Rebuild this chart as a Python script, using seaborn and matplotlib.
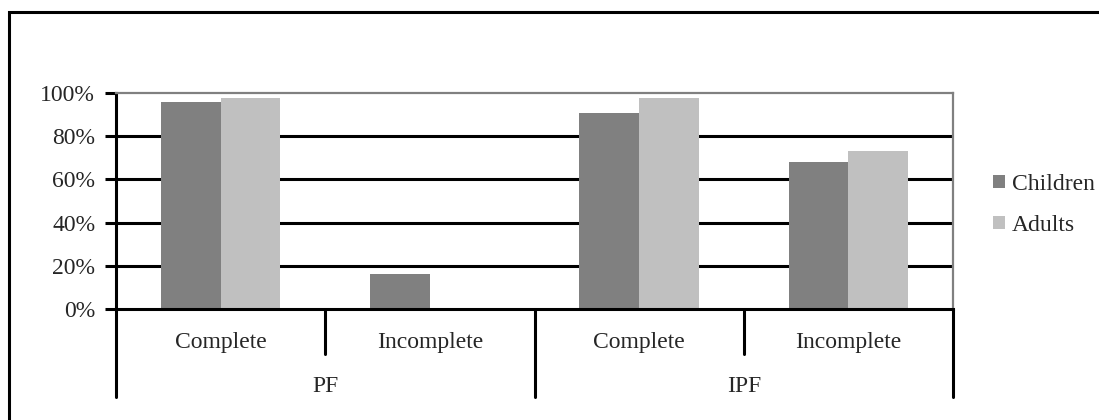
import matplotlib
matplotlib.use("Agg")
import matplotlib.pyplot as plt
from matplotlib.lines import Line2D
from matplotlib.patches import Rectangle
from matplotlib.ticker import FuncFormatter
import matplotlib.transforms as mtransforms
import pandas as pd
import seaborn as sns

# Chart data
fractures = ["PF", "PF", "IPF", "IPF"]
healing = ["Complete", "Incomplete", "Complete", "Incomplete"]
children = [96, 16, 91, 68]
adults = [98, 0, 98, 73]
groups = ["Children", "Adults"]
colors = ["#808080", "#c0c0c0"]
y_ticks = [0, 20, 40, 60, 80, 100]

keys = [f"{f} {h}" for f, h in zip(fractures, healing)]
df = pd.DataFrame({
    "key": keys * 2,
    "group": [groups[0]] * 4 + [groups[1]] * 4,
    "value": children + adults,
})

sns.set_theme(style="white")
plt.rcParams["font.family"] = ["Liberation Serif", "DejaVu Serif"]
FS = 17

W, H = 1099, 420
fig = plt.figure(figsize=(W / 100, H / 100), dpi=100)
ax = fig.add_axes([116 / W, (H - 308.7) / H, (953 - 116) / W, 215.4 / H])

sns.barplot(data=df, x="key", y="value", hue="group", palette=colors,
            order=keys, hue_order=groups, width=2 / 3.5, gap=0,
            saturation=1, edgecolor="none", linewidth=0, ax=ax, zorder=2)

ax.set_xlim(-0.5, 3.5)
ax.set_ylim(0, 100)
ax.set_xlabel("")
ax.set_ylabel("")
ax.set_xticks([])
ax.set_yticks(y_ticks)
ax.yaxis.set_major_formatter(FuncFormatter(lambda v, _: f"{v:.0f}%"))
ax.tick_params(axis="y", left=True, length=8, width=2.2, color="black",
               pad=7, labelsize=FS)

# Gridlines between the bottom axis and the top border
for t in y_ticks[1:-1]:
    ax.axhline(t, color="black", lw=2.2, zorder=0.5)

for side in ("left", "bottom"):
    ax.spines[side].set_color("black")
    ax.spines[side].set_linewidth(2.2)
for side in ("top", "right"):
    ax.spines[side].set_color("#808080")
    ax.spines[side].set_linewidth(1.6)

# Two-level category axis below the plot
ax_h = 215.4
trans = mtransforms.blended_transform_factory(ax.transData, ax.transAxes)
for xb in [0.5, 2.5]:
    ax.add_line(Line2D([xb, xb], [0, -45 / ax_h], transform=trans,
                       color="black", lw=2.2, clip_on=False))
for xb in [-0.5, 1.5, 3.5]:
    ax.add_line(Line2D([xb, xb], [0, -88 / ax_h], transform=trans,
                       color="black", lw=2.2, clip_on=False))
for i, h in enumerate(healing):
    ax.text(i, -34 / ax_h, h, transform=trans, ha="center", va="center",
            fontsize=FS)
for i, f in enumerate(["PF", "IPF"]):
    ax.text(2 * i + 0.5, -78 / ax_h, f, transform=trans, ha="center",
            va="center", fontsize=FS)

# Legend
handles = [Rectangle((0, 0), 1, 1, facecolor=c, edgecolor="none") for c in colors]
if ax.get_legend() is not None:
    ax.get_legend().remove()
fig.legend(handles, groups, loc="center left",
           bbox_to_anchor=(993 / W, (H - 205) / H), bbox_transform=fig.transFigure,
           frameon=False, fontsize=FS, handlelength=0.5, handleheight=0.5,
           handletextpad=0.3, labelspacing=0.85, borderpad=0, borderaxespad=0)

# Chart border
fig.add_artist(Rectangle((9 / W, -0.2), 1.5, (H - 12) / H + 0.2,
                         transform=fig.transFigure, fill=False,
                         edgecolor="black", lw=2.2, clip_on=False))

fig.savefig("out.png", dpi=100, facecolor="white")
